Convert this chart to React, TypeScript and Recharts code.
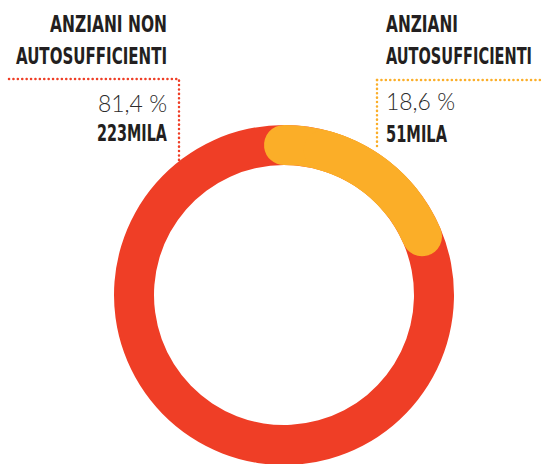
import React from "react"
import { PieChart, Pie, Cell } from "recharts"

const categories = ["Anziani non autosufficienti", "Anziani autosufficienti"]
const shares = [81.4, 18.6]
const counts = ["223MILA", "51MILA"]
const shareLabels = ["81,4 %", "18,6 %"]

const RED = "#EF3E26"
const ORANGE = "#FBAE28"
const INK = "#231F20"

// orange slice first so it starts at 12 o'clock and runs clockwise
const data = [
  { name: categories[1], value: shares[1] },
  { name: categories[0], value: shares[0] },
]

const CX = 284
const CY = 295
const INNER = 130
const OUTER = 170
const CAP = (OUTER - INNER) / 2
// angle a round cap sticks out past the slice edge
const capDeg = (Math.asin(CAP / (INNER + CAP)) * 180) / Math.PI

const condensed = "'DejaVu Sans Condensed', 'Liberation Sans Narrow', sans-serif"
const SQ = 0.71 // horizontal squeeze to fake a DIN-like condensed face

type SqProps = { x: number; y: number; w: number; end?: boolean; children: React.ReactNode }

function Squeezed({ x, y, w, end, children }: SqProps) {
  return (
    <text
      transform={`translate(${x},${y}) scale(${SQ},1)`}
      textAnchor={end ? "end" : "start"}
      textLength={w / SQ}
      lengthAdjust="spacingAndGlyphs"
    >
      {children}
    </text>
  )
}

function Labels() {
  const dot = { strokeWidth: 2.5, strokeDasharray: "0.1 4.3", strokeLinecap: "round" as const, fill: "none" }
  return (
    <svg width={543} height={464} style={{ position: "absolute", left: 0, top: 0 }}>
      <polyline points="9,79 179,79 179,160" stroke={RED} {...dot} />
      <polyline points="377,80 543,80" stroke={ORANGE} {...dot} />
      <polyline points="377,80 377,150" stroke={ORANGE} {...dot} />

      <g fill={INK} fontFamily={condensed} fontWeight={700} fontSize={23}>
        <Squeezed x={167} y={32} w={117} end>ANZIANI NON</Squeezed>
        <Squeezed x={167} y={64} w={151} end>AUTOSUFFICIENTI</Squeezed>
        <Squeezed x={167} y={141} w={70} end>{counts[0]}</Squeezed>
        <Squeezed x={386} y={32} w={72}>ANZIANI</Squeezed>
        <Squeezed x={386} y={64} w={146}>AUTOSUFFICIENTI</Squeezed>
        <Squeezed x={386} y={142} w={61}>{counts[1]}</Squeezed>
      </g>
      <g fill="#2b2b2b" fontFamily="Lato, 'Open Sans', sans-serif" fontWeight={300} fontSize={23}>
        <text x={167} y={112} textAnchor="end" textLength={69} lengthAdjust="spacingAndGlyphs">
          {shareLabels[0]}
        </text>
        <text x={386} y={110} textLength={69} lengthAdjust="spacingAndGlyphs">
          {shareLabels[1]}
        </text>
      </g>
    </svg>
  )
}

export default function App() {
  return (
    <div style={{ position: "fixed", left: 0, top: 0, width: 543, height: 464, background: "#fff" }}>
      <PieChart width={543} height={464} margin={{ top: 0, right: 0, bottom: 0, left: 0 }}>
        {/* full red ring underneath */}
        <Pie
          data={data}
          dataKey="value"
          cx={CX}
          cy={CY}
          innerRadius={INNER}
          outerRadius={OUTER}
          startAngle={90}
          endAngle={-270}
          stroke="none"
          isAnimationActive={false}
        >
          {data.map((d) => (
            <Cell key={d.name} fill={RED} />
          ))}
        </Pie>
        {/* orange slice, drawn twice shifted so its round caps centre on the slice edges */}
        {[capDeg, -capDeg].map((off) => (
          <Pie
            key={off}
            data={data}
            dataKey="value"
            cx={CX}
            cy={CY}
            innerRadius={INNER}
            outerRadius={OUTER}
            startAngle={90 + off}
            endAngle={90 + off - 360}
            cornerRadius={CAP}
            stroke="none"
            isAnimationActive={false}
          >
            {data.map((d, i) => (
              <Cell key={d.name} fill={i === 0 ? ORANGE : "transparent"} />
            ))}
          </Pie>
        ))}
      </PieChart>
      <Labels />
    </div>
  )
}
